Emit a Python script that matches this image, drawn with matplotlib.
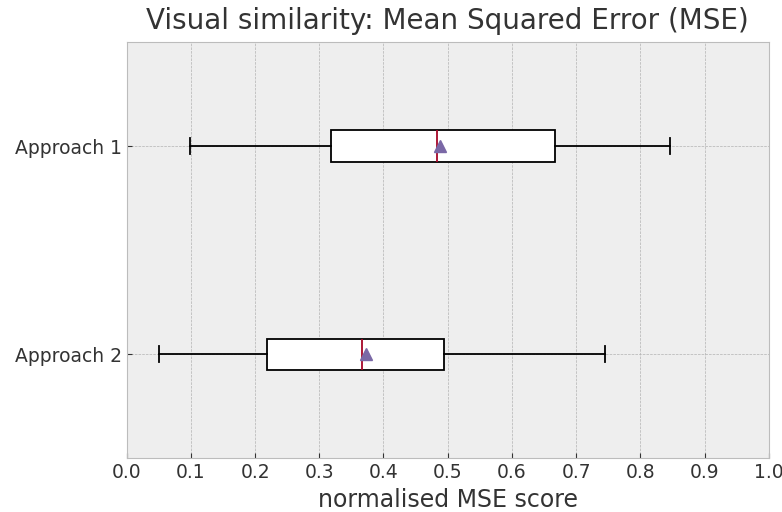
import matplotlib
matplotlib.use("Agg")
import matplotlib.pyplot as plt

# box statistics (normalised MSE)
labels = ["Approach 1", "Approach 2"]
whisker_lo = [0.098, 0.051]
q1 = [0.319, 0.218]
medians = [0.483, 0.366]
means = [0.488, 0.372]
q3 = [0.667, 0.495]
whisker_hi = [0.846, 0.745]

plt.style.use("bmh")
plt.rcParams.update({
    "text.color": "#333333",
    "xtick.color": "#333333",
    "ytick.color": "#333333",
    "axes.labelcolor": "#333333",
    "xtick.labelsize": 13.5,
    "ytick.labelsize": 13.5,
})

stats = []
for i, lbl in enumerate(labels):
    stats.append({
        "label": lbl,
        "whislo": whisker_lo[i],
        "q1": q1[i],
        "med": medians[i],
        "mean": means[i],
        "q3": q3[i],
        "whishi": whisker_hi[i],
        "fliers": [],
    })

fig, ax = plt.subplots(figsize=(7.82, 5.12), dpi=100)
fig.subplots_adjust(left=0.162, right=0.983, top=0.918, bottom=0.105)

ax.bxp(
    stats,
    positions=[2, 1],
    orientation="horizontal",
    widths=0.15,
    showmeans=True,
    patch_artist=True,
    boxprops=dict(facecolor="white", edgecolor="black", linewidth=1.3),
    whiskerprops=dict(linewidth=1.3),
    capprops=dict(linewidth=1.3),
    medianprops=dict(linewidth=1.3),
    meanprops=dict(markersize=8),
)

ax.set_ylim(0.5, 2.5)
ax.set_xlim(0, 1)
ax.set_xticks([i / 10 for i in range(11)])
ax.set_title("Visual similarity: Mean Squared Error (MSE)", fontsize=20, pad=9)
ax.set_xlabel("normalised MSE score", fontsize=17)

fig.savefig("out.png", dpi=100)
